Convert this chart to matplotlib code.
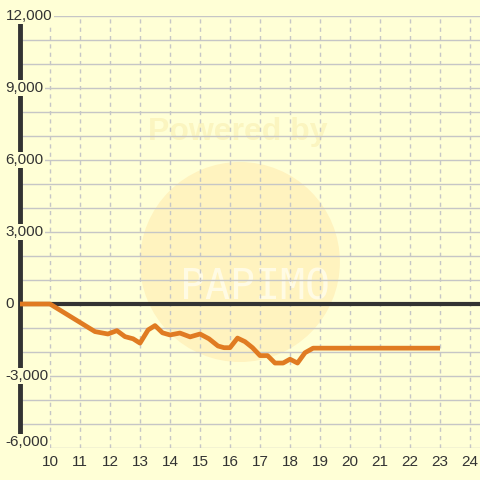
import matplotlib.pyplot as plt
from matplotlib.patches import Ellipse

# Data
hours = [9, 10, 11.5, 11.93, 12.23, 12.5, 12.77, 13, 13.27, 13.5, 13.75, 14, 14.33,
         14.67, 15, 15.3, 15.6, 15.8, 16, 16.25, 16.5, 16.75, 17, 17.25, 17.5, 17.77,
         18, 18.25, 18.5, 18.77, 23]
balance = [0, 0, -1150, -1250, -1110, -1360, -1450, -1630, -1080, -900, -1200, -1290, -1210,
           -1370, -1250, -1450, -1750, -1820, -1820, -1420, -1570, -1820, -2150, -2150, -2460, -2460,
           -2300, -2460, -2030, -1840, -1840]
x_ticks = list(range(10, 25))
y_ticks = [-6000, -3000, 0, 3000, 6000, 9000, 12000]
y_labels = ["-6,000", "-3,000", "0", "3,000", "6,000", "9,000", "12,000"]

bg = "#ffffd6"
text_col = "#333333"
grid_col = "#c6c6c6"

plt.rcParams['font.family'] = ['Liberation Sans', 'DejaVu Sans']

fig = plt.figure(figsize=(4.8, 4.8), dpi=100, facecolor=bg)
ax = fig.add_axes([20 / 480, 1 - 448 / 480, 460 / 480, 432 / 480])
ax.set_facecolor(bg)
ax.set_xlim(9, 9 + 460 / 30)
ax.set_ylim(-6000, 12000)

# faint watermark
ax.add_patch(Ellipse((16.33, 1750), 200 / 30, 200 / 24 * 1000, color="#fff3bf", zorder=0.5, lw=0))
ax.text(16.25, 7150, "Powered by", ha="center", va="center", fontsize=23, fontweight="bold",
        color="#fbf5c0", zorder=0.6)
ax.text(16.85, 700, "PAPIMO", ha="center", va="center", fontsize=30, color="#fffbe4",
        zorder=0.6, fontfamily="DejaVu Sans Mono")

# grid
for v in range(-6000, 12001, 1000):
    ax.axhline(v, color=grid_col, lw=1, zorder=1)
for h in x_ticks:
    ax.axvline(h, color=grid_col, lw=1, ls=(0, (3, 3)), zorder=1)

ax.axhline(0, color="#333333", lw=3, zorder=2)
ax.plot(hours, balance, color="#e07b22", lw=3.4, solid_joinstyle="round",
        solid_capstyle="butt", zorder=3)

for s in ["top", "right", "bottom"]:
    ax.spines[s].set_visible(False)
ax.spines["left"].set_linewidth(3.5)
ax.spines["left"].set_color("#333333")
ax.spines["left"].set_bounds(-5460, 11667)
ax.set_xticks([])
ax.set_yticks([])

ytr = ax.get_yaxis_transform()
for v, lab in zip(y_ticks, y_labels):
    yy = -5750 if v == -6000 else v
    ax.text(-0.031, yy, lab, transform=ytr, ha="left", va="center", fontsize=11,
            color=text_col, zorder=5, clip_on=False,
            bbox=dict(facecolor=bg, edgecolor="none", pad=1))

xtr = ax.get_xaxis_transform()
for h in x_ticks:
    ax.text(h, -0.032, str(h), transform=xtr, ha="center", va="center", fontsize=11,
            color=text_col, clip_on=False)

fig.savefig("out.png", dpi=100, facecolor=bg)
